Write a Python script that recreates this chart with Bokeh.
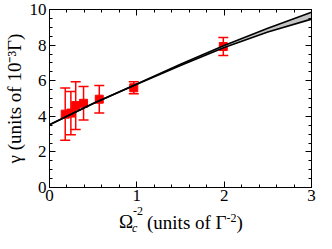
from bokeh.plotting import figure
from bokeh.layouts import column
from bokeh.models import (LinearAxis, SingleIntervalTicker, Range1d, Whisker, TeeHead,
                          ColumnDataSource, CustomJSTickFormatter, Div)
from bokeh.embed import file_html
from bokeh.resources import INLINE

# ---- data ----
pts_x = [0.18, 0.245, 0.30, 0.39, 0.57, 0.965, 1.99]
pts_y = [4.12, 4.18, 4.60, 4.73, 4.96, 5.60, 7.92]
pts_err = [1.47, 1.22, 1.34, 0.94, 0.77, 0.34, 0.50]

curve_x = [0.0, 0.5, 1.0, 1.5, 2.0, 2.5, 3.0]
curve_lo = [3.53, 4.72, 5.80, 6.86, 7.87, 8.73, 9.46]
curve_hi = [3.53, 4.72, 5.82, 6.92, 7.98, 8.95, 9.84]

x_ticks_interval = 1
y_ticks_interval = 2

RED = "#ff0000"
FONT = "Liberation Serif"

p = figure(width=316, height=205, output_backend="svg", toolbar_location=None,
           x_range=Range1d(0, 3), y_range=Range1d(0, 10),
           min_border_left=40, min_border_right=5, min_border_top=9, min_border_bottom=18,
           x_axis_type=None, y_axis_type=None)
p.xgrid.visible = False
p.ygrid.visible = False
p.outline_line_color = "black"
p.outline_line_width = 1

def style_axis(ax, show_labels):
    ax.axis_line_color = "black"
    ax.axis_line_width = 1
    ax.major_tick_in = 6
    ax.major_tick_out = 0
    ax.minor_tick_in = 3
    ax.minor_tick_out = 0
    ax.major_tick_line_color = "black"
    ax.minor_tick_line_color = "black"
    ax.major_label_text_font = FONT
    ax.major_label_text_font_size = "17px"
    ax.major_label_text_color = "black"
    ax.major_label_standoff = 2
    if not show_labels:
        ax.formatter = CustomJSTickFormatter(code="return ''")
        ax.major_label_standoff = 0
        ax.major_label_text_font_size = "0px"

xt = lambda: SingleIntervalTicker(interval=x_ticks_interval, num_minor_ticks=5)
yt = lambda: SingleIntervalTicker(interval=y_ticks_interval, num_minor_ticks=4)

bx = LinearAxis(ticker=xt()); style_axis(bx, True)
tx = LinearAxis(ticker=xt()); style_axis(tx, False)
ly = LinearAxis(ticker=yt()); style_axis(ly, True)
ry = LinearAxis(ticker=yt()); style_axis(ry, False)
ly.major_label_standoff = 3
ly.axis_label = "γ (units of 10⁻³Γ)"
ly.axis_label_text_font = FONT
ly.axis_label_text_font_size = "19px"
ly.axis_label_text_font_style = "normal"
ly.axis_label_text_color = "black"
ly.axis_label_standoff = 2
p.add_layout(bx, "below")
p.add_layout(tx, "above")
p.add_layout(ly, "left")
p.add_layout(ry, "right")

# ---- data points with error bars ----
src = ColumnDataSource(dict(
    x=pts_x, y=pts_y,
    lo=[y - e for y, e in zip(pts_y, pts_err)],
    hi=[y + e for y, e in zip(pts_y, pts_err)],
))
w = Whisker(source=src, base="x", lower="lo", upper="hi", dimension="height",
            line_color=RED, line_width=1.5,
            upper_head=TeeHead(size=10, line_color=RED, line_width=1.5),
            lower_head=TeeHead(size=10, line_color=RED, line_width=1.5))
p.add_layout(w)
p.scatter("x", "y", source=src, marker="square", size=8, color=RED)

# ---- theory band ----
p.varea(x=curve_x, y1=curve_lo, y2=curve_hi, fill_color="#c4c4c4")
p.line(curve_x, curve_lo, line_color="black", line_width=1.6)
p.line(curve_x, curve_hi, line_color="black", line_width=1.6)

# ---- x axis title with stacked sub/superscript ----
base = "position:absolute;white-space:nowrap;font-family:'Liberation Serif',serif;color:black;"
xlabel_html = (
    "<div style=\"position:relative;width:316px;height:28px\">"
    f"<span style=\"{base}left:119px;top:7px;font-size:19px;line-height:19px\">Ω</span>"
    f"<span style=\"{base}left:133px;top:0px;font-size:12px;line-height:12px\">-2</span>"
    f"<span style=\"{base}left:132px;top:17px;font-size:12px;line-height:12px;font-style:italic\">c</span>"
    f"<span style=\"{base}left:147px;top:7px;font-size:19px;line-height:19px\">(units of Γ"
    "<span style=\"font-size:12px;vertical-align:7px;line-height:12px\">-2</span>)</span>"
    "</div>"
)
xdiv = Div(text=xlabel_html, width=316, height=28, margin=0)

layout = column(p, xdiv, spacing=0)
open("out.html", "w").write(file_html(layout, INLINE))
